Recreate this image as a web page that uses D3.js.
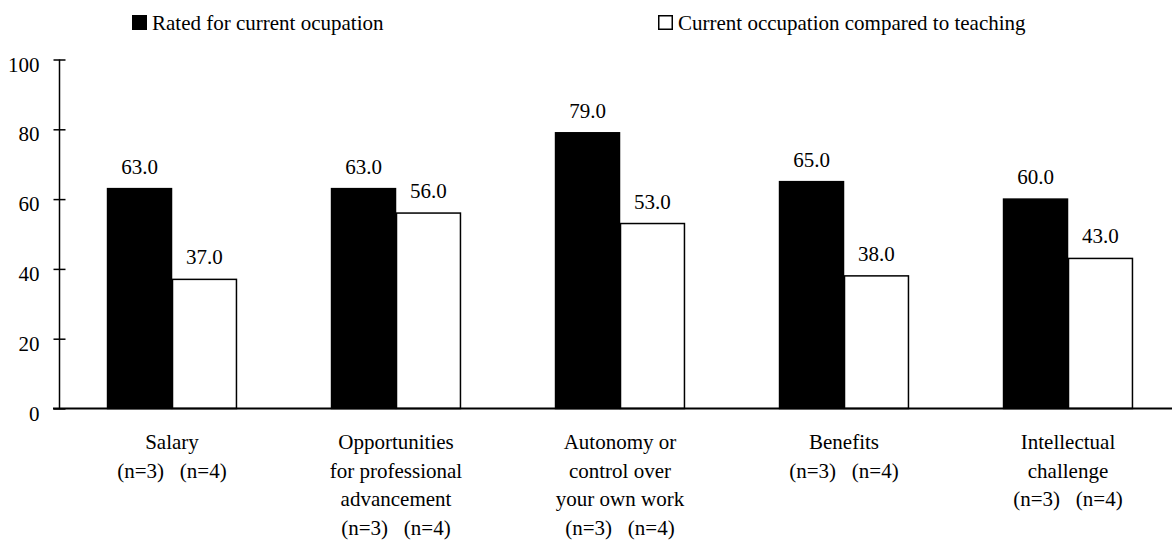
<!DOCTYPE html>
<html><head><meta charset="utf-8">
<script src="https://cdn.jsdelivr.net/npm/d3@7"></script>
<style>
html,body{margin:0;padding:0;background:#fff;}
</style></head>
<body>
<svg id="chart" width="1172" height="540"></svg>
<script>
const categories = ["Salary","Opportunities","Autonomy","Benefits","Intellectual"];
const categoryLabels = [
  ["Salary","(n=3)   (n=4)"],
  ["Opportunities","for professional","advancement","(n=3)   (n=4)"],
  ["Autonomy or","control over","your own work","(n=3)   (n=4)"],
  ["Benefits","(n=3)   (n=4)"],
  ["Intellectual","challenge","(n=3)   (n=4)"]
];
const seriesNames = ["Rated for current ocupation","Current occupation compared to teaching"];
const ratedValues = [63,63,79,65,60];
const comparedValues = [37,56,53,38,43];
const yTicks = [0,20,40,60,80,100];

const FONT = "'Liberation Serif', Tinos, 'DejaVu Serif', serif";
const svg = d3.select("#chart");
const fs = 21;

const x0 = d3.scaleBand().domain(categories).range([60,1180]).paddingInner(0.42).paddingOuter(0.21);
const x1 = d3.scaleBand().domain([0,1]).range([0,x0.bandwidth()]);
const y = d3.scaleLinear().domain([0,100]).range([408.5,59.5]);

const seriesVals = [ratedValues, comparedValues];
const fills = ["#000","#fff"];

function txt(sel){ return sel.attr("font-family", FONT).attr("fill","#000").attr("font-size",fs); }

seriesVals.forEach((vals,si)=>{
  svg.append("g").selectAll("rect").data(vals).join("rect")
    .attr("x",(d,i)=>x0(categories[i])+x1(si)+0.5)
    .attr("y",d=>y(d))
    .attr("width",x1.bandwidth()-1)
    .attr("height",d=>y(0)-y(d))
    .attr("fill",fills[si])
    .attr("stroke","#000").attr("stroke-width",1.5);
  svg.append("g").selectAll("text").data(vals).join("text")
    .call(txt)
    .attr("x",(d,i)=>x0(categories[i])+x1(si)+x1.bandwidth()/2)
    .attr("y",d=>y(d)-15)
    .attr("text-anchor","middle")
    .text(d=>d.toFixed(1));
});

const yAxis = d3.axisLeft(y).tickValues(yTicks).tickSize(6).tickPadding(14);
const gy = svg.append("g").attr("transform","translate(59.5,0)").call(yAxis);
gy.attr("font-family",null).attr("font-size",null);
gy.select(".domain").attr("stroke","#000").attr("stroke-width",1.5).attr("d","M0,"+y(100)+"V"+y(0));
gy.selectAll(".tick line").attr("x1",-6).attr("x2",6).attr("stroke","#000").attr("stroke-width",1.5);
gy.selectAll(".tick text").call(txt).attr("dy","0.55em");

svg.append("line").attr("x1",53).attr("x2",1172).attr("y1",y(0)).attr("y2",y(0))
  .attr("stroke","#000").attr("stroke-width",2);

const gl = svg.append("g");
categoryLabels.forEach((lines,i)=>{
  const cx = x0(categories[i]) + x0.bandwidth()/2;
  lines.forEach((ln,j)=>{
    gl.append("text").call(txt).attr("x",cx).attr("y",449+j*28.5)
      .attr("text-anchor","middle")
      .attr("xml:space","preserve").style("white-space","pre")
      .text(ln);
  });
});

const legendX = [132,658];
seriesNames.forEach((name,i)=>{
  svg.append("rect").attr("x",legendX[i]+0.75).attr("y",15.75).attr("width",13.5).attr("height",13.5)
    .attr("fill",fills[i]).attr("stroke","#000").attr("stroke-width",1.5);
  svg.append("text").call(txt).attr("x",legendX[i]+20).attr("y",30).text(name);
});
</script>
</body></html>
